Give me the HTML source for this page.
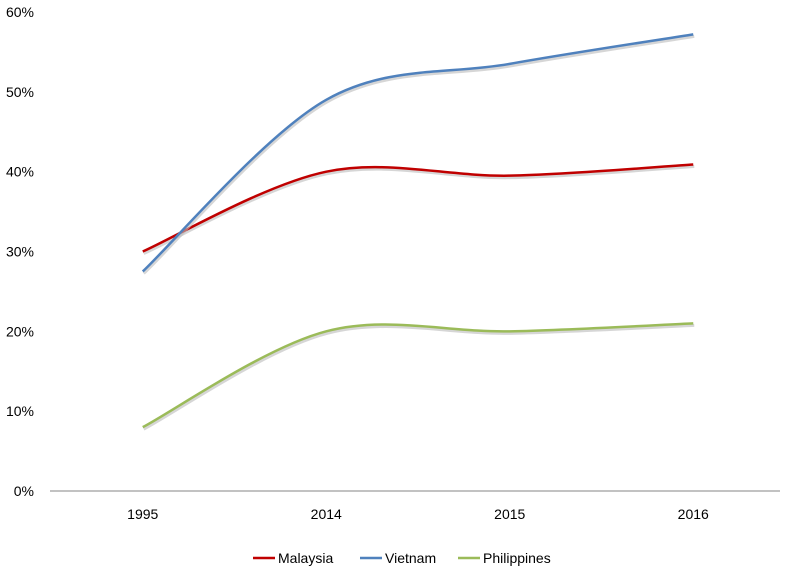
<!DOCTYPE html>
<html><head><meta charset="utf-8"><style>
body{margin:0;background:#fff;width:800px;height:577px;overflow:hidden;font-family:"Liberation Sans",sans-serif}
svg text{font-family:"Liberation Sans",sans-serif;font-size:14px;fill:#000}
</style></head><body>
<svg id="chart" width="800" height="577" xmlns="http://www.w3.org/2000/svg"></svg>
<script>
const categories=["1995","2014","2015","2016"];
const malaysia=[30,40,39.5,40.9];
const vietnam=[27.5,49,53.5,57.2];
const philippines=[8,20,20,21];
const yTicks=[0,10,20,30,40,50,60];
const svg=document.getElementById('chart');
const NS='http://www.w3.org/2000/svg';
const x0=51,x1=785,y0=491,y60=12;
function xs(i){return x0+(x1-x0)/categories.length*(i+0.5);}
function ys(v){return y0-(y0-y60)*v/60;}
function mk(t,a,p){const e=document.createElementNS(NS,t);for(const k in a)e.setAttribute(k,a[k]);(p||svg).appendChild(e);return e;}
const axis=mk('line',{x1:50,y1:y0,x2:780,y2:y0,stroke:'#868686','stroke-width':1});


yTicks.forEach(v=>{const t=mk('text',{x:34,y:ys(v)+5,'text-anchor':'end'});t.textContent=v+'%';

});
categories.forEach((c,i)=>{const t=mk('text',{x:xs(i),y:519,'text-anchor':'middle'});t.textContent=c;

});
function path(vals){const p=vals.map((v,i)=>[xs(i),ys(v)]);let d='M'+p[0][0]+','+p[0][1];
for(let i=0;i<p.length-1;i++){const a=p[i-1]||p[i],b=p[i],c=p[i+1],e=p[i+2]||c;
const c1=[b[0]+(c[0]-a[0])/6,b[1]+(c[1]-a[1])/6],c2=[c[0]-(e[0]-b[0])/6,c[1]-(e[1]-b[1])/6];
d+=' C'+c1+' '+c2+' '+c;}return d;}
const series=[["malaysia",malaysia,'#c00000'],["vietnam",vietnam,'#4f81bd'],["philippines",philippines,'#9bbb59']];
series.forEach(([n,v,c])=>{const s=mk('path',{d:path(v),fill:'none',stroke:'#bbb','stroke-width':3,transform:'translate(1,2)',opacity:0.6});


const l=mk('path',{d:path(v),fill:'none',stroke:c,'stroke-width':2.5});

});
const leg=[["Malaysia",253,'#c00000'],["Vietnam",360,'#4f81bd'],["Philippines",458,'#9bbb59']];
leg.forEach(([n,x,c])=>{const g=mk('g',{});


mk('line',{x1:x,y1:558,x2:x+22,y2:558,stroke:c,'stroke-width':2.5},g);
const t=mk('text',{x:x+25,y:563},g);t.textContent=n;});
</script>
</body></html>
